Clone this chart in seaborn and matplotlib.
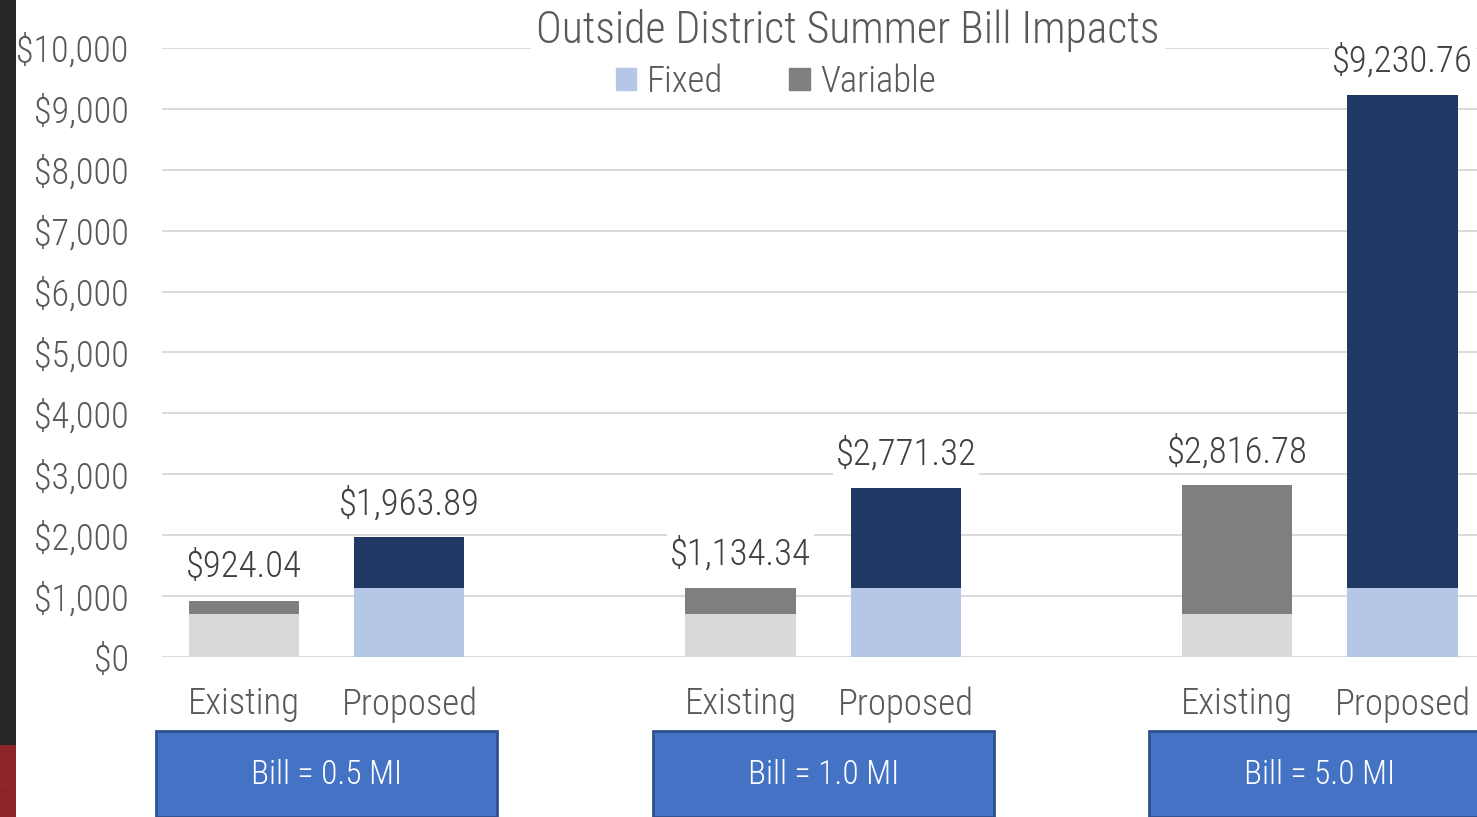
import numpy as np
import pandas as pd
import seaborn as sns
import matplotlib.pyplot as plt
from matplotlib.patches import Rectangle, Patch
import matplotlib.transforms as mtransforms

# data
groups = ["Bill = 0.5 MI", "Bill = 1.0 MI", "Bill = 5.0 MI"]
scenarios = ["Existing", "Proposed"]
fixed_existing = [706, 706, 706]
fixed_proposed = [1133, 1133, 1133]
total_existing = [924.04, 1134.34, 2816.78]
total_proposed = [1963.89, 2771.32, 9230.76]

rows = []
for g in range(len(groups)):
    rows.append({"pos": g * 3, "scenario": "Existing", "fixed": fixed_existing[g], "total": total_existing[g]})
    rows.append({"pos": g * 3 + 1, "scenario": "Proposed", "fixed": fixed_proposed[g], "total": total_proposed[g]})
df = pd.DataFrame(rows)

sns.set_style("white")
plt.rcParams["font.family"] = ["Roboto Condensed", "Liberation Sans Narrow", "Roboto", "DejaVu Sans"]
plt.rcParams["font.weight"] = "light"

fig = plt.figure(figsize=(14.77, 8.17), dpi=100)
ax = fig.add_axes([162 / 1477, 160 / 817, 1 - 162 / 1477, (657 - 48) / 817])

# stacked bars: full total first, fixed part on top of it
sns.barplot(data=df, x="pos", y="total", hue="scenario",
            palette={"Existing": "#7F7F7F", "Proposed": "#203864"},
            native_scale=True, dodge=False, width=0.665, saturation=1,
            errorbar=None, legend=False, ax=ax, zorder=3, linewidth=0)
sns.barplot(data=df, x="pos", y="fixed", hue="scenario",
            palette={"Existing": "#D9D9D9", "Proposed": "#B4C7E7"},
            native_scale=True, dodge=False, width=0.665, saturation=1,
            errorbar=None, legend=False, ax=ax, zorder=3, linewidth=0)

ax.set_xlim(-0.495, 7.45)
ax.set_ylim(0, 10000)
ax.set_yticks(np.arange(0, 10001, 1000))
ax.set_yticklabels([f"${v:,.0f}" for v in np.arange(0, 10001, 1000)])
ax.yaxis.grid(True, color="#D9D9D9", lw=1.4, zorder=0)
ax.set_axisbelow(True)
for s in ax.spines.values():
    s.set_visible(False)
ax.tick_params(axis="y", length=0, pad=24, labelsize=26, labelcolor="#595959")
ax.set_xticks(df["pos"])
ax.set_xticklabels(df["scenario"])
ax.tick_params(axis="x", length=0, pad=21, labelsize=26.5, labelcolor="#595959")
ax.set_xlabel("")
ax.set_ylabel("")

# value labels above bars
for p, t in zip(df["pos"], df["total"]):
    ax.annotate(f"${t:,.2f}", (p, t), xytext=(0, 11), textcoords="offset points",
                ha="center", va="bottom", fontsize=26.5, color="#404040",
                bbox=dict(facecolor="white", edgecolor="none", pad=2), zorder=5)

# title and legend
fig.text(848 / 1477, 1 - 31 / 817, "Outside District Summer Bill Impacts",
         ha="center", va="center", fontsize=31.5, color="#595959",
         bbox=dict(facecolor="white", edgecolor="none", pad=4))
handles = [Patch(color="#B4C7E7", label="Fixed"), Patch(color="#7F7F7F", label="Variable")]
fig.legend(handles=handles, loc="center", bbox_to_anchor=(776 / 1477, 1 - 82 / 817),
           ncol=2, frameon=False, fontsize=26.5, labelcolor="#595959",
           handlelength=0.55, handleheight=0.55, handletextpad=0.3, columnspacing=1.8)

# group boxes under the axis
trans = mtransforms.blended_transform_factory(ax.transData, fig.transFigure)
for g, name in enumerate(groups):
    c = g * 3 + 0.5
    box = Rectangle((c - 1.03, 0), 2.06, 86 / 817, transform=trans, clip_on=False,
                    facecolor="#4472C4", edgecolor="#2F528F", lw=2, zorder=4)
    fig.add_artist(box)
    fig.text(c, 1 - 775 / 817, name, transform=trans, ha="center", va="center",
             fontsize=24, color="white", zorder=5)

# dark strip at the left edge
fig.add_artist(Rectangle((0, 0), 16 / 1477, 1, transform=fig.transFigure,
                         facecolor="#262626", edgecolor="none"))
fig.add_artist(Rectangle((0, 0), 16 / 1477, 72 / 817, transform=fig.transFigure,
                         facecolor="#8B2527", edgecolor="none"))
fig.text(1 / 1477, 1 - 785 / 817, "...", fontsize=4, color="#E8C8C8", va="center")

fig.savefig("out.png", dpi=100)
